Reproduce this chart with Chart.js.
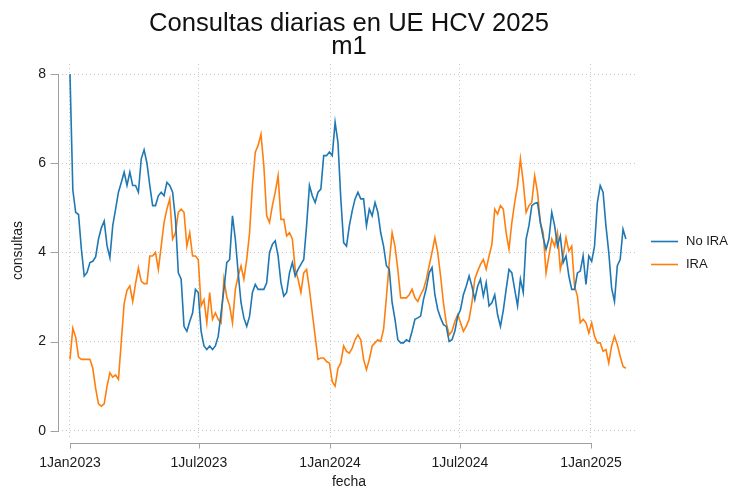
<!DOCTYPE html>
<html lang="es">
<head>
<meta charset="UTF-8">
<title>Consultas diarias en UE HCV 2025</title>
<script src="https://cdn.jsdelivr.net/npm/chart.js"></script>
<style>
  body { margin: 0; background: #fff; }
  #wrap { width: 744px; height: 491px; }
</style>
</head>
<body>
<div id="wrap"><canvas id="chart" width="744" height="491"></canvas></div>
<script>
// una lectura cada 4 dias, contando desde el 1 ene 2023
const startDay = 0;
const stepDays = 4;

const noIra = [
  8.0, 5.4, 4.9, 4.85, 4.07, 3.47, 3.55, 3.77, 3.8, 3.9,
  4.3, 4.55, 4.7, 4.15, 3.88, 4.6, 4.97, 5.35, 5.57, 5.8,
  5.5, 5.8, 5.5, 5.5, 5.35, 6.1, 6.3, 6.0, 5.5, 5.05,
  5.05, 5.27, 5.35, 5.27, 5.57, 5.5, 5.35, 4.75, 3.54, 3.4,
  2.34, 2.23, 2.45, 2.64, 3.17, 3.1, 2.23, 1.9, 1.82, 1.9,
  1.82, 1.9, 2.12, 2.64, 3.17, 3.77, 3.84, 4.82, 4.3, 3.54,
  2.87, 2.53, 2.34, 2.57, 3.1, 3.28, 3.17, 3.17, 3.17, 3.32,
  4.0, 4.18, 4.26, 3.92, 3.32, 3.02, 3.1, 3.54, 3.77, 3.47,
  3.62, 3.73, 3.84, 4.6, 5.5, 5.27, 5.12, 5.35, 5.42, 6.17,
  6.17, 6.25, 6.17, 6.92, 6.47, 5.2, 4.22, 4.14, 4.6, 4.93,
  5.2, 5.35, 5.2, 5.2, 4.6, 4.97, 4.82, 5.12, 4.9, 4.44,
  4.14, 3.7, 3.62, 2.87, 2.5, 2.04, 1.97, 1.97, 2.04, 2.0,
  2.23, 2.5, 2.53, 2.57, 2.94, 3.2, 3.54, 3.66, 3.05, 2.72,
  2.53, 2.38, 2.34, 2.0, 2.04, 2.23, 2.57, 2.72, 3.05, 3.24,
  3.47, 3.24, 2.94, 3.24, 3.4, 3.02, 3.32, 2.8, 2.87, 3.05,
  2.6, 2.34, 2.7, 3.17, 3.62, 3.54, 3.17, 2.8, 3.4, 3.1,
  4.3, 4.6, 5.05, 5.1, 5.12, 4.67, 4.33, 4.07, 4.3, 4.9,
  4.6, 4.14, 4.37, 3.77, 3.92, 3.47, 3.17, 3.17, 3.54, 3.58,
  3.92, 3.28, 3.92, 3.8, 4.14, 5.12, 5.5, 5.35, 4.6, 4.0,
  3.2, 2.9, 3.7, 3.84, 4.52, 4.3
];

const ira = [
  1.6, 2.3, 2.1, 1.65, 1.6, 1.6, 1.6, 1.6, 1.4, 0.95,
  0.6, 0.55, 0.6, 1.0, 1.3, 1.2, 1.25, 1.15, 2.0, 2.85,
  3.15, 3.25, 2.9, 3.3, 3.65, 3.35, 3.3, 3.3, 3.92, 3.92,
  4.0, 3.62, 4.14, 4.67, 4.97, 5.2, 4.3, 4.44, 4.9, 4.97,
  4.9, 4.14, 4.44, 3.92, 3.92, 3.84, 2.8, 2.94, 2.42, 3.1,
  2.5, 2.64, 2.5, 2.42, 3.4, 3.0, 2.8, 2.42, 3.17, 3.47,
  3.7, 3.4, 3.84, 4.44, 5.5, 6.25, 6.4, 6.65, 5.95, 4.82,
  4.67, 5.05, 5.35, 5.72, 4.74, 4.74, 4.37, 4.44, 4.3, 3.62,
  3.4, 3.1, 3.54, 3.62, 3.17, 2.64, 2.12, 1.6, 1.63, 1.63,
  1.55, 1.52, 1.1, 1.0, 1.4, 1.52, 1.9, 1.78, 1.74, 1.85,
  2.04, 2.15, 2.04, 1.6, 1.37, 1.6, 1.9, 1.97, 2.04, 2.0,
  2.27, 3.0, 3.77, 4.44, 4.14, 3.62, 2.98, 2.98, 2.98, 3.05,
  3.17, 2.98, 2.9, 3.05, 3.17, 3.4, 3.7, 4.0, 4.33, 4.0,
  3.47, 2.87, 2.42, 2.15, 2.23, 2.45, 2.6, 2.42, 2.23, 2.34,
  2.5, 2.87, 3.4, 3.58, 3.73, 3.84, 3.62, 3.92, 4.18, 4.97,
  4.86, 5.05, 4.97, 4.44, 4.07, 4.67, 5.12, 5.5, 6.1, 5.57,
  4.9, 5.05, 5.12, 5.72, 5.35, 4.67, 4.44, 3.54, 3.92, 4.3,
  4.14, 4.44, 3.62, 3.92, 4.33, 4.03, 4.14, 3.24, 3.02, 2.42,
  2.5, 2.42, 2.19, 2.42, 2.12, 1.97, 1.97, 1.78, 1.82, 1.52,
  1.9, 2.12, 1.93, 1.67, 1.44, 1.4
];

const seriesNames = ['No IRA', 'IRA'];
const seriesColors = ['#1f77b4', '#ff7f0e'];

// ticks del eje x en dias desde 1 ene 2023
const tickDays = [0, 181, 365, 547, 731];
const tickLabels = ['1Jan2023', '1Jul2023', '1Jan2024', '1Jul2024', '1Jan2025'];
const yTicks = [0, 2, 4, 6, 8];

const FONT = '"Liberation Sans", Arial, sans-serif';
const axisColor = '#a0a0a0';
const textColor = '#1a1a1a';

const toPoints = vals => vals.map((v, i) => ({ x: startDay + i * stepDays, y: v }));

// ejes estilo Stata: linea solo entre el primer y ultimo tick, separada del area
const axisLines = {
  id: 'axisLines',
  afterDraw(chart) {
    const { ctx, chartArea, scales: { x, y } } = chart;
    ctx.save();
    ctx.strokeStyle = axisColor;
    ctx.lineWidth = 1;
    ctx.beginPath();
    const ax = chartArea.left - 4 + 0.5;
    ctx.moveTo(ax, Math.round(y.getPixelForValue(yTicks[yTicks.length - 1])));
    ctx.lineTo(ax, Math.round(y.getPixelForValue(yTicks[0])) + 1);
    yTicks.forEach(v => {
      const py = Math.round(y.getPixelForValue(v)) + 0.5;
      ctx.moveTo(ax - 8, py);
      ctx.lineTo(ax, py);
    });
    const ay = Math.round(chartArea.bottom) + 6.5;
    ctx.moveTo(Math.round(x.getPixelForValue(tickDays[0])), ay);
    ctx.lineTo(Math.round(x.getPixelForValue(tickDays[tickDays.length - 1])) + 1, ay);
    tickDays.forEach(d => {
      const px = Math.round(x.getPixelForValue(d)) + 0.5;
      ctx.moveTo(px, ay);
      ctx.lineTo(px, ay + 5);
    });
    ctx.stroke();
    ctx.restore();
  }
};

// leyenda a la derecha, centrada en el area del grafico
const sideLegend = {
  id: 'sideLegend',
  afterDraw(chart) {
    const { ctx, chartArea } = chart;
    const midY = (chartArea.top + chartArea.bottom) / 2;
    const x0 = chartArea.right + 15;
    ctx.save();
    ctx.font = '13px ' + FONT;
    ctx.textBaseline = 'middle';
    ctx.textAlign = 'left';
    chart.data.datasets.forEach((ds, i) => {
      const yy = Math.round(midY - 10 + i * 23) + 0.5;
      ctx.strokeStyle = ds.borderColor;
      ctx.lineWidth = 1.6;
      ctx.beginPath();
      ctx.moveTo(x0, yy);
      ctx.lineTo(x0 + 27, yy);
      ctx.stroke();
      ctx.fillStyle = textColor;
      ctx.fillText(ds.label, x0 + 35, yy);
    });
    ctx.restore();
  }
};

new Chart(document.getElementById('chart'), {
  type: 'line',
  data: {
    datasets: [noIra, ira].map((vals, i) => ({
      label: seriesNames[i],
      data: toPoints(vals),
      borderColor: seriesColors[i],
      backgroundColor: seriesColors[i],
      borderWidth: 1.6,
      pointRadius: 0,
      tension: 0,
      fill: false
    }))
  },
  options: {
    responsive: false,
    animation: false,
    layout: { padding: { left: 0, right: 108, top: 0, bottom: 0 } },
    plugins: {
      legend: { display: false },
      tooltip: { enabled: false },
      title: {
        display: true,
        fullSize: false,
        text: ['Consultas diarias en UE HCV 2025', 'm1'],
        color: '#111',
        font: { family: FONT, size: 25.6, weight: 'normal', lineHeight: 0.9 },
        padding: { top: 12, bottom: 6 }
      }
    },
    scales: {
      x: {
        type: 'linear',
        min: -11.2,
        max: 794.2,
        afterBuildTicks: s => { s.ticks = tickDays.map(v => ({ value: v })); },
        afterFit: s => { s.height = 54; },
        ticks: {
          autoSkip: false,
          maxRotation: 0,
          padding: 18,
          color: textColor,
          font: { family: FONT, size: 14 },
          callback: (v, i) => tickLabels[i]
        },
        grid: { color: '#c4c4c4', drawTicks: false },
        border: { display: false, dash: [1, 3] },
        title: {
          display: true,
          text: 'fecha',
          color: textColor,
          font: { family: FONT, size: 14 },
          padding: { top: 0, bottom: 0 }
        }
      },
      y: {
        min: -0.142,
        max: 8.225,
        afterBuildTicks: s => { s.ticks = yTicks.map(v => ({ value: v })); },
        afterFit: s => { s.width = 62; },
        ticks: {
          padding: 16,
          color: textColor,
          font: { family: FONT, size: 14 }
        },
        grid: { color: '#c4c4c4', drawTicks: false },
        border: { display: false, dash: [1, 3] },
        title: {
          display: true,
          text: 'consultas',
          color: textColor,
          font: { family: FONT, size: 14 },
          padding: { top: 10, bottom: 0 }
        }
      }
    }
  },
  plugins: [axisLines, sideLegend]
});
</script>
</body>
</html>
